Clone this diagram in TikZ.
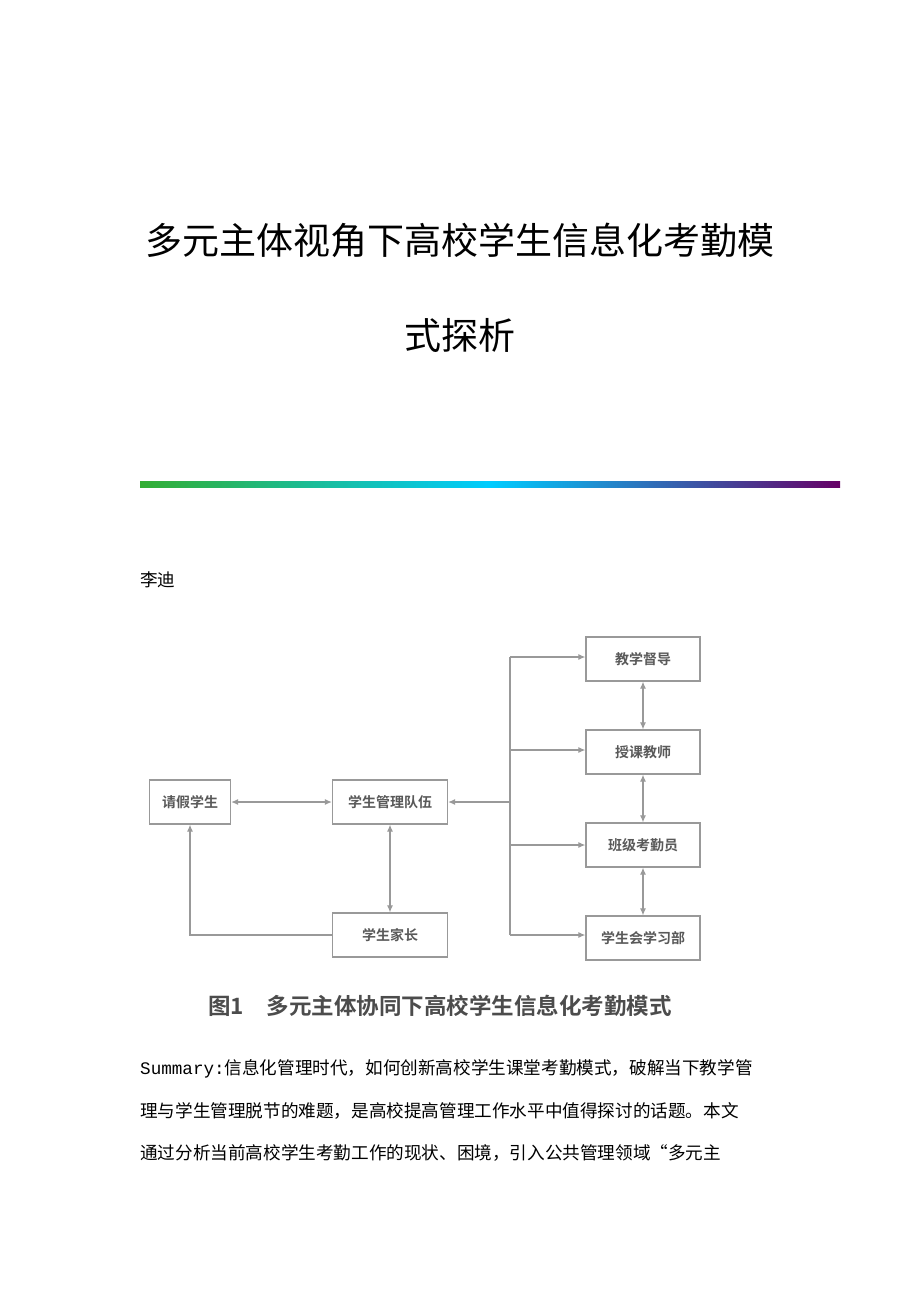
\documentclass[tikz,border=0pt]{standalone}
\usepackage{fontspec}
\newfontfamily\cjk{Noto Sans CJK SC}
\newfontfamily\cjkbold{Noto Sans CJK SC Bold}
\setmonofont{Liberation Mono}
\usetikzlibrary{arrows.meta,positioning,shadings}
\tikzstyle{boxnode}=[draw=gray!80, line width=1.3pt, minimum height=44pt, inner sep=0pt, font=\cjkbold\fontsize{14}{14}\selectfont, text=gray!70!black]
\tikzstyle{link}=[draw=gray!80, line width=1.1pt, -{Latex[length=7pt,width=6pt]}]
\tikzstyle{bothlink}=[link, {Latex[length=7pt,width=6pt]}-{Latex[length=7pt,width=6pt]}]
\tikzstyle{bodytext}=[anchor=west, inner sep=0pt, font=\cjk\fontsize{17.6}{17.6}\selectfont]

\begin{document}
\begin{tikzpicture}[x=1pt, y=-1pt]
    \useasboundingbox (0,0) rectangle (920,1302);
    % title
    \node[font=\cjk\fontsize{37}{37}\selectfont] (title1) at (460,240) {多元主体视角下高校学生信息化考勤模};
    \node[font=\cjk\fontsize{37}{37}\selectfont] (title2) at (460,335) {式探析};
    \shade[left color=green!60!black!80, right color=violet!80!black, middle color=cyan!80!blue] (140,481) rectangle (840,487);
    \node[bodytext] (author) at (140,580) {李迪};

    % nodes
    \node[boxnode, minimum width=81pt] (leave) at (190,802) {请假学生};
    \node[boxnode, minimum width=115pt] (team) at (390,802) {学生管理队伍};
    \node[boxnode, minimum width=115pt] (parent) at (390,935) {学生家长};
    \node[boxnode, minimum width=114pt] (super) at (643,659) {教学督导};
    \node[boxnode, minimum width=114pt] (teacher) at (643,752) {授课教师};
    \node[boxnode, minimum width=114pt] (clerk) at (643,845) {班级考勤员};
    \node[boxnode, minimum width=114pt] (union) at (643,938) {学生会学习部};
    \coordinate (top) at (510,657);
    \coordinate (mid) at (510,802);
    \coordinate (bot) at (510,935);

    % arcs
    \draw[bothlink] (leave) -- (team);
    \draw[bothlink] (team) -- (parent);
    \draw[link] (parent.west) -| (leave.south);
    \draw[draw=gray!80, line width=1.1pt] (top) -- (bot);
    \draw[link] (mid) -- (team);
    \draw[link] (top) -- (super.west |- top);
    \draw[link] (510,750) -- (teacher.west |- 0,750);
    \draw[link] (510,845) -- (clerk.west |- 0,845);
    \draw[link] (bot) -- (union.west |- bot);
    \draw[bothlink] (super) -- (teacher);
    \draw[bothlink] (teacher) -- (clerk);
    \draw[bothlink] (clerk) -- (union);

    % caption and text
    \node[font=\cjkbold\fontsize{22.5}{22.5}\selectfont, text=gray!60!black] (caption) at (440,1006) {图1\quad 多元主体协同下高校学生信息化考勤模式};
    \node[bodytext] (line1) at (140,1069) {\ttfamily Summary:\cjk 信息化管理时代，如何创新高校学生课堂考勤模式，破解当下教学管};
    \node[bodytext] (line2) at (140,1111) {理与学生管理脱节的难题，是高校提高管理工作水平中值得探讨的话题。本文};
    \node[bodytext] (line3) at (140,1153) {通过分析当前高校学生考勤工作的现状、困境，引入公共管理领域“多元主};
\end{tikzpicture}
\end{document}
